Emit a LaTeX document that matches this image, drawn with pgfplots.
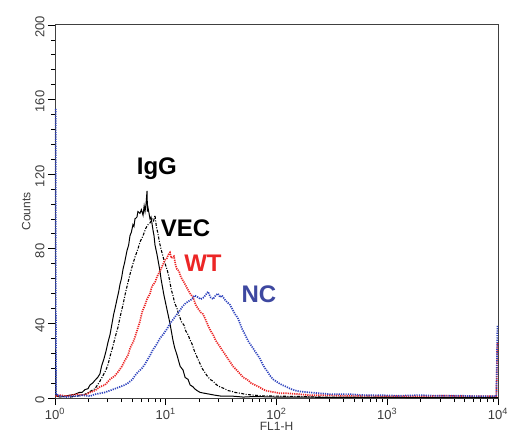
\documentclass[border=0pt]{standalone}
\usepackage{pgfplots}
\pgfplotsset{compat=1.18}
\usepackage{fontspec}
\setmainfont{Liberation Sans}

\definecolor{wtred}{RGB}{236,38,38}
\definecolor{ncblue}{RGB}{48,68,190}
\definecolor{nclabel}{RGB}{62,72,160}
\definecolor{ticktext}{RGB}{60,60,60}

\begin{document}
\begin{tikzpicture}
\begin{axis}[
    at={(0,0)}, anchor=south west,
    set layers,
    scale only axis,
    width=443bp, height=373bp,
    xmin=0, xmax=4,
    ymin=0, ymax=200,
    clip=false,
    /pgf/number format/assume math mode=true,
    xtick={0,1,2,3,4},
    xticklabels={10\textsuperscript{0},10\textsuperscript{1},10\textsuperscript{2},10\textsuperscript{3},10\textsuperscript{4}},
    minor xtick={0.301,0.477,0.602,0.699,0.778,0.845,0.903,0.954,
                 1.301,1.477,1.602,1.699,1.778,1.845,1.903,1.954,
                 2.301,2.477,2.602,2.699,2.778,2.845,2.903,2.954,
                 3.301,3.477,3.602,3.699,3.778,3.845,3.903,3.954},
    ytick={0,40,80,120,160,200},
    minor y tick num=4,
    tick align=outside,
    xtick pos=bottom, ytick pos=left,
    major tick length=7bp, minor tick length=4bp,
    every tick/.style={black, line width=0.8pt},
    tick label style={font=\fontsize{13bp}{15bp}\selectfont, text=ticktext},
    yticklabel style={rotate=90, anchor=south, xshift=-2bp},
    xlabel={FL1-H},
    ylabel={Counts},
    label style={font=\fontsize{12bp}{14bp}\selectfont, text=ticktext},
    xlabel shift=-4bp,
    ylabel shift=-2bp,
    axis line style={black!75, line width=1pt},
]

% IgG
\addplot[black, line width=1pt] coordinates {
(0.005,26)(0.009,2)(0.02,1)(0.045,0.5)(0.09,1)(0.135,1.5)(0.181,2)(0.22,3)(0.244,3)
(0.271,4.5)(0.298,5)(0.316,7)(0.34,8)(0.361,9.5)(0.385,11)(0.406,13)(0.42,17)
(0.442,21)(0.46,25)(0.479,30)(0.497,34)(0.515,40)(0.53,45)(0.542,48)(0.56,53)
(0.575,57)(0.587,61)(0.6,64)(0.614,69)(0.63,73)(0.65,79)(0.665,82)(0.677,87)
(0.69,89)(0.704,93)(0.713,92)(0.722,96)(0.74,97)(0.749,100)(0.767,99)(0.78,101)
(0.795,98)(0.805,103)(0.813,100)(0.822,104)(0.831,111)(0.835,100)(0.840,102)
(0.858,96)(0.867,97)(0.885,90)(0.894,87)(0.903,82)(0.921,77)(0.93,74)(0.948,68)
(0.957,64)(0.975,58)(0.984,55)(1.002,50)(1.02,45)(1.038,40)(1.05,36)(1.065,31)
(1.08,27)(1.102,23)(1.111,21)(1.13,17)(1.156,15)(1.175,11)(1.201,10)(1.22,7)
(1.246,6)(1.26,5)(1.282,4)(1.31,3)(1.354,2.5)(1.4,2)(1.445,1.5)(1.5,1)(1.6,1)
(1.7,0.5)(1.8,0.8)(2.0,0.5)(2.2,0.5)(2.5,0.3)(3,0.3)(3.5,0.2)(4,0.2)
};

% VEC
\addplot[black, line width=1.1pt, dash pattern=on 3pt off 1.5pt on 1pt off 1.5pt] coordinates {
(0.135,0.5)(0.2,1)(0.271,2)(0.316,3.5)(0.361,5)(0.406,9)(0.433,12)(0.46,15)
(0.479,18)(0.5,23)(0.524,28)(0.545,33)(0.569,38)(0.59,44)(0.614,50)(0.635,56)
(0.659,62)(0.68,67)(0.704,72)(0.725,76)(0.749,80)(0.77,84)(0.795,87)(0.82,91)
(0.84,93)(0.86,94)(0.876,96)(0.89,95)(0.903,98)(0.915,92)(0.93,88)(0.945,83)
(0.957,80)(0.97,77)(0.984,74)(1.0,71)(1.011,69)(1.025,66)(1.038,62)(1.05,58)
(1.065,55)(1.08,51)(1.102,48)(1.115,45)(1.129,43)(1.14,41)(1.165,39)(1.18,36)
(1.201,34)(1.22,31)(1.237,29)(1.26,25)(1.282,22)(1.305,19)(1.327,16)(1.35,14)
(1.372,12)(1.4,10)(1.427,9)(1.46,7)(1.49,6)(1.53,5)(1.562,4)(1.6,3.5)(1.625,3)
(1.68,2.5)(1.716,2)(1.8,1.5)(1.851,1.2)(2.0,1)(2.2,0.8)(2.4,0.5)(2.8,0.5)
(3.2,0.3)(3.6,0.3)(4,0.2)
};

% WT
\addplot[wtred, line width=1.7pt, dash pattern=on 1.2pt off 1pt] coordinates {
(0.005,1)(0.05,1.5)(0.1,1)(0.15,1.5)(0.2,2)(0.271,1.5)(0.316,3)(0.361,4)(0.406,6)
(0.451,7)(0.497,10)(0.542,12)(0.569,14)(0.605,17)(0.63,20)(0.659,23)(0.68,27)
(0.713,31)(0.74,36)(0.767,41)(0.786,46)(0.813,50)(0.831,53)(0.858,56)(0.876,60)
(0.903,62)(0.921,65)(0.948,68)(0.97,71)(0.993,74)(1.011,75)(1.025,77)(1.038,78)
(1.05,75)(1.074,76)(1.09,71)(1.102,69)(1.12,68)(1.129,66)(1.145,64)(1.165,62)
(1.183,60)(1.201,58)(1.22,56)(1.246,54)(1.27,50)(1.291,48)(1.315,46)(1.336,45)
(1.36,42)(1.381,39)(1.405,36)(1.427,34)(1.45,31)(1.472,29)(1.495,27)(1.517,25)
(1.54,23)(1.562,21)(1.585,19)(1.607,17)(1.64,15)(1.67,13)(1.7,11)(1.734,10)
(1.77,8)(1.806,7)(1.84,6)(1.869,5)(1.9,4)(1.941,3.5)(1.99,3)(2.032,2.5)(2.1,2.5)
(2.212,2)(2.3,1.5)(2.483,1.5)(2.6,1.2)(2.844,1.2)(3.0,1)(3.296,1)(3.5,1.2)
(3.747,1)(3.9,1)(3.985,1)(3.995,30)
};

% NC
\addplot[ncblue, line width=1.7pt, dash pattern=on 1.2pt off 1.1pt] coordinates {
(0.006,155)(0.009,2)(0.05,1)(0.1,0.5)(0.15,1)(0.2,1)(0.25,1.5)(0.316,1)(0.361,2)
(0.406,2.5)(0.45,3)(0.497,4)(0.542,5)(0.587,6)(0.63,7)(0.659,8)(0.7,10)(0.722,12)
(0.75,14)(0.786,16)(0.81,18)(0.84,21)(0.86,23)(0.885,26)(0.91,28)(0.948,32)
(0.975,34)(1.011,37)(1.04,40)(1.065,42)(1.09,44)(1.129,47)(1.15,49)(1.183,51)
(1.21,52)(1.237,53)(1.26,55)(1.291,54)(1.315,53)(1.345,54)(1.381,57)(1.405,54)
(1.427,53)(1.45,55)(1.472,56)(1.49,54)(1.508,55)(1.53,53)(1.544,52)(1.562,51)
(1.58,50)(1.607,47)(1.625,45)(1.65,43)(1.67,40)(1.69,37)(1.716,34)(1.74,31)
(1.761,29)(1.785,27)(1.806,25)(1.83,23)(1.851,21)(1.875,18)(1.896,16)(1.92,14)
(1.941,12)(1.97,10)(1.995,9)(2.02,8)(2.05,7)(2.09,6)(2.122,5)(2.17,4)(2.212,3.5)
(2.3,3)(2.393,2.5)(2.5,2)(2.664,2)(2.8,1.5)(2.935,1.5)(3.1,1.2)(3.296,1.5)
(3.45,1.2)(3.657,1.2)(3.8,1)(3.973,1)(3.985,1)(3.995,39)
};

\node[font=\bfseries\fontsize{24bp}{26bp}\selectfont, text=black] at (axis cs:0.92,123) {IgG};
\node[font=\bfseries\fontsize{24bp}{26bp}\selectfont, text=black] at (axis cs:1.178,91) {VEC};
\node[font=\bfseries\fontsize{24bp}{26bp}\selectfont, text=wtred] at (axis cs:1.336,72) {WT};
\node[font=\bfseries\fontsize{24bp}{26bp}\selectfont, text=nclabel] at (axis cs:1.842,55.5) {NC};
\end{axis}
\pgfresetboundingbox
\path (-55bp,-47bp) rectangle (457bp,398bp);
\end{tikzpicture}
\end{document}
